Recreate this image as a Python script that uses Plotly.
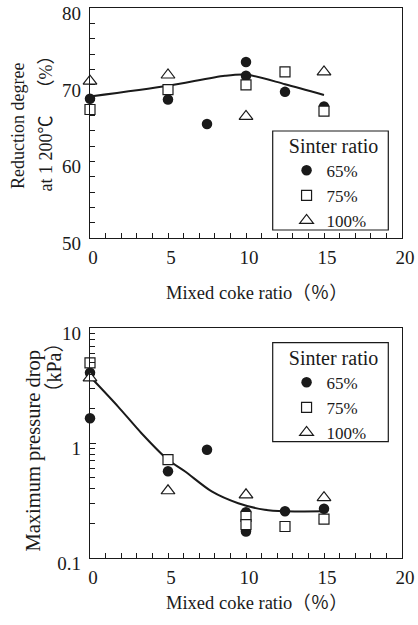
import plotly.graph_objects as go

# ---------------- data ----------------
top_x65 = [0, 5, 7.5, 10, 10, 12.5, 15]
top_y65 = [68.2, 68.1, 64.9, 73.0, 71.2, 69.1, 67.2]
top_x75 = [0, 5, 10, 12.5, 15]
top_y75 = [66.8, 69.4, 70.0, 71.7, 66.6]
top_x100 = [0, 5, 10, 15]
top_y100 = [70.5, 71.3, 65.9, 71.7]
top_fit_x = [0, 5, 8.65, 10, 12.5, 15]
top_fit_y = [68.5, 69.9, 71.2, 71.35, 70.1, 68.7]

bot_x65 = [0, 0, 5, 7.5, 10, 10, 12.5, 15]
bot_y65 = [4.1, 1.65, 0.57, 0.875, 0.25, 0.17, 0.255, 0.268]
bot_x75 = [0, 5, 10, 10, 12.5, 15]
bot_y75 = [5.0, 0.72, 0.23, 0.195, 0.188, 0.218]
bot_x100 = [0, 5, 10, 15]
bot_y100 = [3.7, 0.385, 0.355, 0.335]
bot_fit_x = [0, 1.8, 3.3, 5, 6.1, 7.8, 9.5, 11.2, 12.5, 15]
bot_fit_y = [3.8, 2.08, 1.22, 0.716, 0.566, 0.38, 0.30, 0.263, 0.255, 0.255]

series_names = ["65%", "75%", "100%"]
x_ticks = [0, 5, 10, 15, 20]
top_y_ticks = [50, 60, 70, 80]
bot_y_ticks = [0.1, 1, 10]
bot_y_ticktext = ["0.1", "1", "10"]
bot_minor = [0.2, 0.3, 0.4, 0.5, 0.6, 0.7, 0.8, 0.9, 2, 3, 4, 5, 6, 7, 8, 9]

FONT = "Liberation Serif, Times New Roman, Noto Sans CJK SC, serif"
BLACK = "#1a1a1a"

# pixel layout helpers (figure 418x625, margins l=90 r=16 t=8 b=67)
W, H, L, R, T, B = 418, 625, 90, 16, 8, 67
PW, PH = W - L - R, H - T - B
def px(xp):
    return (xp - L) / PW
def py(yp):
    return 1 - (yp - T) / PH

fig = go.Figure()

def add_panel(xa, ya, legend, fx, fy, x65, y65, x75, y75, x100, y100):
    fig.add_trace(go.Scatter(x=fx, y=fy, mode="lines", line=dict(color=BLACK, width=2, shape="spline", smoothing=0.8),
                             xaxis=xa, yaxis=ya, showlegend=False, hoverinfo="skip", cliponaxis=False))
    fig.add_trace(go.Scatter(x=x65, y=y65, mode="markers", name=series_names[0], legend=legend,
                             marker=dict(symbol="circle", size=10.5, color=BLACK, line=dict(width=0)),
                             xaxis=xa, yaxis=ya, cliponaxis=False))
    fig.add_trace(go.Scatter(x=x75, y=y75, mode="markers", name=series_names[1], legend=legend,
                             marker=dict(symbol="square", size=10, color="white", line=dict(width=1.2, color=BLACK)),
                             xaxis=xa, yaxis=ya, cliponaxis=False))
    fig.add_trace(go.Scatter(x=x100, y=y100, mode="markers", name=series_names[2], legend=legend,
                             marker=dict(symbol="triangle-up", size=12, color="white", line=dict(width=1.2, color=BLACK)),
                             xaxis=xa, yaxis=ya, cliponaxis=False))

add_panel("x", "y", "legend", top_fit_x, top_fit_y, top_x65, top_y65, top_x75, top_y75, top_x100, top_y100)
add_panel("x2", "y2", "legend2", bot_fit_x, bot_fit_y, bot_x65, bot_y65, bot_x75, bot_y75, bot_x100, bot_y100)

xcommon = dict(range=[0, 20], tickvals=x_ticks, ticks="inside", ticklen=5, tickwidth=1, tickcolor=BLACK,
               showline=True, linecolor=BLACK, linewidth=1.2, mirror=True, showgrid=False, zeroline=False,
               automargin=False, ticklabeloverflow="allow",
               tickfont=dict(family=FONT, size=19, color=BLACK), ticklabelstandoff=2, ticklabelshift=3,
               minor=dict(dtick=1, ticks="inside", ticklen=5, tickcolor=BLACK, showgrid=False))

ycommon = dict(ticks="inside", tickcolor=BLACK, showline=True, linecolor=BLACK, linewidth=1.2,
               mirror=True, showgrid=False, zeroline=False, ticklabelstandoff=4, ticklabelshift=5,
               automargin=False, ticklabeloverflow="allow",
               tickfont=dict(family=FONT, size=19, color=BLACK))

legcommon = dict(xanchor="left", yanchor="top", bgcolor="rgba(0,0,0,0)", borderwidth=0,
                 font=dict(family=FONT, size=17, color=BLACK),
                 title=dict(text="Sinter ratio", side="top center", font=dict(family=FONT, size=20, color=BLACK)))

def ytitle(text, x, y, size=18):
    return dict(text=text, xref="paper", yref="paper", x=px(x), y=py(y), xanchor="center", yanchor="middle",
                textangle=-90, showarrow=False, font=dict(family=FONT, size=size, color=BLACK))

def xtitle(text, y):
    return dict(text=text, xref="paper", yref="paper", x=px(164), y=py(y), xanchor="left", yanchor="middle",
                showarrow=False, font=dict(family=FONT, size=18.5, color=BLACK))

XTITLE = "Mixed coke ratio（％）"

fig.update_layout(
    width=W, height=H,
    margin=dict(l=L, r=R, t=T, b=B, autoexpand=False),
    paper_bgcolor="white", plot_bgcolor="white",
    font=dict(family=FONT, color=BLACK),
    xaxis=dict(domain=[0, 1], anchor="y", **xcommon),
    xaxis2=dict(domain=[0, 1], anchor="y2", **xcommon),
    yaxis=dict(domain=[py(238.3), py(8.3)], anchor="x", range=[50, 80], tickvals=top_y_ticks, ticklen=5,
               minor=dict(dtick=2, ticks="inside", ticklen=5, tickcolor=BLACK, showgrid=False), **ycommon),
    yaxis2=dict(domain=[max(0, py(558.3)), py(328.3)], anchor="x2", type="log", range=[-1, 1],
                tickvals=bot_y_ticks, ticktext=bot_y_ticktext, ticklen=6,
                minor=dict(tickvals=bot_minor, ticks="inside", ticklen=5, tickcolor=BLACK, showgrid=False),
                **ycommon),
    legend=dict(x=0.63, y=py(126.7), **legcommon),
    legend2=dict(x=0.63, y=py(338.7), **legcommon),
    shapes=[
        dict(type="rect", xref="paper", yref="paper", x0=px(272.7), x1=px(388.3), y0=py(230), y1=py(131),
             line=dict(color=BLACK, width=1.2), fillcolor="white", layer="below"),
        dict(type="rect", xref="paper", yref="paper", x0=px(272.7), x1=px(388.3), y0=py(441.7), y1=py(342.7),
             line=dict(color=BLACK, width=1.2), fillcolor="white", layer="below"),
    ],
    annotations=[
        ytitle("Reduction degree", 18, 126),
        ytitle("at 1 200℃", 45, 153.5),
        ytitle("（%）", 45, 72.5),
        ytitle("Maximum pressure drop", 33, 450.5, size=20.5),
        ytitle("（kPa）", 53, 367.5, size=20),
        xtitle(XTITLE, 293),
        xtitle(XTITLE, 603),
    ],
)

fig.write_html("out.html")
